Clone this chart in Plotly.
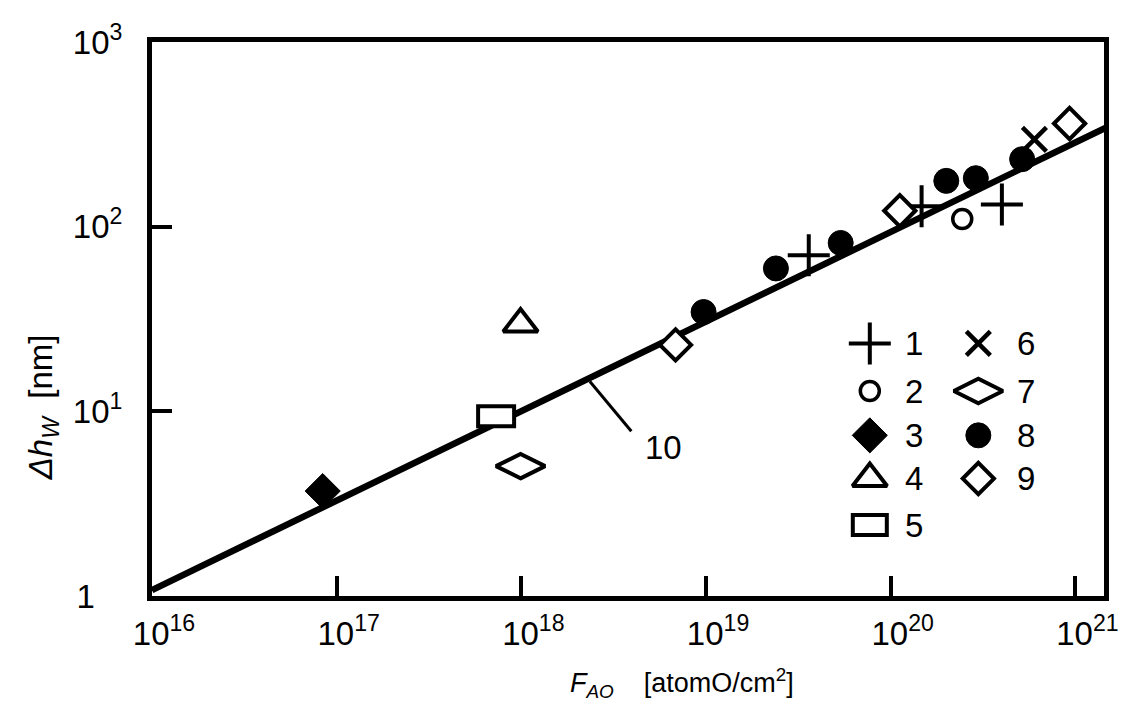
import math
import plotly.graph_objects as go

# ---------------- data ----------------
# F_AO [atomO/cm^2] and Δh_W [nm] for series 1..9
s1_F = [3.6e19, 1.47e20, 4.0e20]
s1_h = [70, 129, 132]
s2_F = [2.44e20]
s2_h = [110]
s3_F = [8.4e16]
s3_h = [3.7]
s4_F = [9.9e17]
s4_h = [29.7]
s5_F = [7.3e17]
s5_h = [9.4]
s6_F = [6.0e20]
s6_h = [297]
s7_F = [9.9e17]
s7_h = [5.05]
s8_F = [9.7e18, 2.39e19, 5.36e19, 2.0e20, 2.89e20, 5.15e20]
s8_h = [34.5, 59.4, 81.6, 177, 183, 232]
s9_F = [6.84e18, 1.12e20, 9.3e20]
s9_h = [22.9, 122, 362]

# line 10 (fit)
fit_F = [1e16, 1.5e21]
fit_h = [1.076, 348]
# leader line & label for curve 10
lead_F = [2.35e18, 3.94e18]
lead_h = [14.5, 7.8]
lab10_F = 5.9e18
lab10_h = 6.4

x_ticks = [1e16, 1e17, 1e18, 1e19, 1e20, 1e21]
x_ticktext = ["10<sup>16</sup>", "10<sup>17</sup>", "10<sup>18</sup>",
              "10<sup>19</sup>", "10<sup>20</sup>", "10<sup>21</sup>"]
y_ticks = [1, 10, 100, 1000]
y_ticktext = ["1\u00a0\u00a0\u00a0", "10<sup>1</sup>", "10<sup>2</sup>", "10<sup>3</sup>"]

legend_labels = ["1", "2", "3", "4", "5", "6", "7", "8", "9"]

X_RANGE = [16, 21.155]   # log10 units
Y_RANGE = [0, 3]

# ---------------- styles ----------------
FONT = "Arial, Liberation Sans, sans-serif"
BLK = "black"
LW = 4

styles = {
    "1": dict(symbol="cross-thin", size=30, color=BLK, line=dict(color=BLK, width=LW)),
    "2": dict(symbol="circle", size=19, color="white", line=dict(color=BLK, width=3.5)),
    "3": dict(symbol="diamond", size=27, color=BLK, line=dict(color=BLK, width=1)),
    "4": dict(symbol="triangle-up", size=30, color="white", line=dict(color=BLK, width=LW)),
    "6": dict(symbol="x-thin", size=24, color=BLK, line=dict(color=BLK, width=4.5)),
    "7": dict(symbol="diamond-wide", size=35, color="white", line=dict(color=BLK, width=LW)),
    "8": dict(symbol="circle", size=25, color=BLK, line=dict(color=BLK, width=1)),
    "9": dict(symbol="diamond", size=24, color="white", line=dict(color=BLK, width=LW)),
}

series = {
    "1": (s1_F, s1_h), "2": (s2_F, s2_h), "3": (s3_F, s3_h), "4": (s4_F, s4_h),
    "6": (s6_F, s6_h), "7": (s7_F, s7_h), "8": (s8_F, s8_h), "9": (s9_F, s9_h),
}

fig = go.Figure()

# fit line 10
fig.add_trace(go.Scatter(x=fit_F, y=fit_h, mode="lines",
                         line=dict(color=BLK, width=6.5), showlegend=False, hoverinfo="skip"))
# leader line
fig.add_trace(go.Scatter(x=lead_F, y=lead_h, mode="lines",
                         line=dict(color=BLK, width=3), showlegend=False, hoverinfo="skip"))

for k, (xs, ys) in series.items():
    fig.add_trace(go.Scatter(x=xs, y=ys, mode="markers", marker=styles[k],
                             showlegend=False, name=k))

# series 5: wide open rectangle, anchored (via a linear overlay axis in log10 units)
shapes = []
for xv, yv in zip(s5_F, s5_h):
    shapes.append(dict(type="rect", xref="x3", yref="y3", xsizemode="pixel", ysizemode="pixel",
                       xanchor=math.log10(xv), yanchor=math.log10(yv),
                       x0=-18, x1=18, y0=-10, y1=10,
                       line=dict(color=BLK, width=LW), fillcolor="white", layer="above"))

# ---------------- custom two-column legend (overlay axes, 0..1) ----------------
col_x = [0.754, 0.868]
lab_x = [0.800, 0.918]
row_y = [0.456, 0.370, 0.290, 0.212, 0.128]
annotations = []
for i, lab in enumerate(legend_labels):
    col = 0 if i < 5 else 1
    row = i if i < 5 else i - 5
    if lab == "5":
        shapes.append(dict(type="rect", xref="x2", yref="y2", xsizemode="pixel", ysizemode="pixel",
                           xanchor=col_x[col], yanchor=row_y[row], x0=-17, x1=17, y0=-10, y1=10,
                           line=dict(color=BLK, width=LW), fillcolor="white", layer="above"))
    else:
        fig.add_trace(go.Scatter(x=[col_x[col]], y=[row_y[row]], mode="markers",
                                 marker=styles[lab], xaxis="x2", yaxis="y2",
                                 showlegend=False, hoverinfo="skip"))
    annotations.append(dict(x=lab_x[col], y=row_y[row], xref="x2", yref="y2", text=lab,
                            showarrow=False, font=dict(family=FONT, size=33, color=BLK),
                            xanchor="center", yanchor="middle"))

annotations.append(dict(x=math.log10(lab10_F), y=math.log10(lab10_h), xref="x", yref="y",
                        text="10", showarrow=False,
                        font=dict(family=FONT, size=33, color=BLK)))
# axis titles
annotations.append(dict(x=-0.139, y=0.34, xref="paper", yref="paper", textangle=-90,
                        text="<i>Δh<sub>W</sub></i>  [nm]", showarrow=False,
                        font=dict(family=FONT, size=33, color=BLK)))
annotations.append(dict(x=0.557, y=-0.195, xref="paper", yref="paper",
                        text="<i>F<sub>AO</sub></i>    [atomO/cm<sup>2</sup>]", showarrow=False,
                        font=dict(family=FONT, size=27, color=BLK)))

axis_common = dict(type="log", showline=True, linewidth=5, linecolor=BLK, mirror=True,
                   ticks="inside", ticklen=20, tickwidth=4, tickcolor=BLK,
                   showgrid=False, zeroline=False,
                   tickfont=dict(family=FONT, size=33, color=BLK))

fig.update_layout(
    width=1130, height=723,
    margin=dict(l=152, r=17, t=42, b=127),
    paper_bgcolor="white", plot_bgcolor="white",
    xaxis=dict(range=X_RANGE, tickvals=x_ticks, ticktext=x_ticktext,
               ticklabelshift=12, ticklabelstandoff=4, **axis_common),
    yaxis=dict(range=Y_RANGE, tickvals=y_ticks, ticktext=y_ticktext,
               ticklabelstandoff=18, **axis_common),
    xaxis2=dict(overlaying="x", range=[0, 1], visible=False),
    yaxis2=dict(overlaying="y", range=[0, 1], visible=False),
    xaxis3=dict(overlaying="x", range=X_RANGE, visible=False),
    yaxis3=dict(overlaying="y", range=Y_RANGE, visible=False),
    shapes=shapes,
    annotations=annotations,
    showlegend=False,
)

fig.write_html("out.html")
